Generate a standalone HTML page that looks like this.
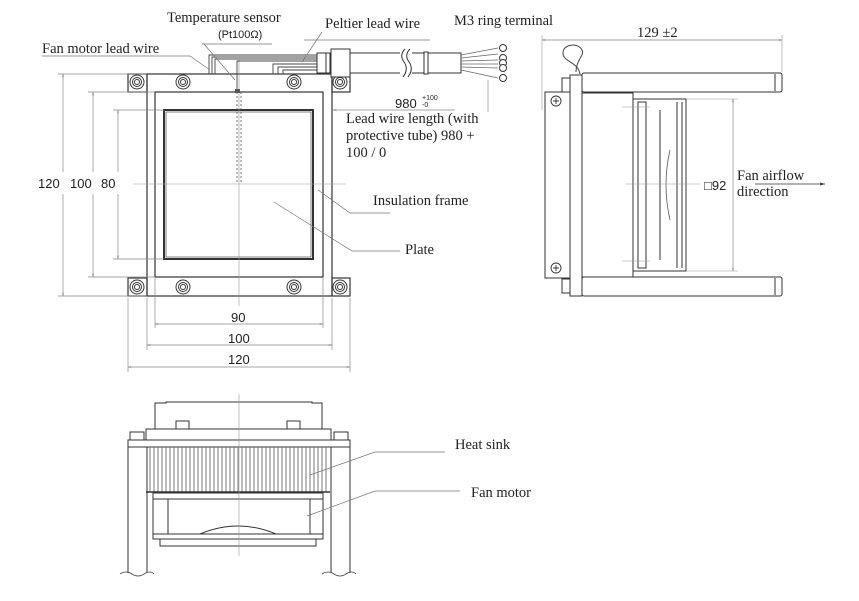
<!DOCTYPE html>
<html><head><meta charset="utf-8"><style>
html,body{margin:0;padding:0;background:#fff;}
svg{display:block;}
.s{font-family:"Liberation Serif",serif;fill:#222;}
.a{font-family:"Liberation Sans",sans-serif;fill:#222;}
</style></head><body>
<svg width="859" height="601" viewBox="0 0 859 601" xmlns="http://www.w3.org/2000/svg">
<rect width="859" height="601" fill="#fff"/>
<defs>
<marker id="ar" viewBox="0 0 10 10" refX="10" refY="5" markerWidth="5" markerHeight="5" orient="auto-start-reverse"><path d="M0,2L10,5L0,8" fill="none" stroke="#888" stroke-width="1"/></marker>
<marker id="af" viewBox="0 0 10 10" refX="10" refY="5" markerWidth="6" markerHeight="6" orient="auto"><path d="M0,2L10,5L0,8z" fill="#333"/></marker>
</defs>

<!-- FRONT VIEW -->
<g fill="none" stroke="#333" stroke-width="1.2">
<rect x="147" y="74" width="185" height="222"/>
<rect x="128" y="74" width="19" height="18"/><rect x="332" y="74" width="18" height="18"/>
<rect x="128" y="278" width="19" height="18"/><rect x="332" y="278" width="18" height="18"/>
<rect x="155" y="92" width="168" height="185"/>
<rect x="164" y="110" width="149" height="149" stroke-width="2"/>
<rect x="166" y="112" width="145" height="145" stroke-width="0.6"/>
</g>
<g fill="none" stroke="#333" stroke-width="1">
<circle cx="137" cy="82" r="7"/><circle cx="137" cy="82" r="4.5"/><circle cx="137" cy="82" r="2.5"/>
<circle cx="183" cy="82" r="7"/><circle cx="183" cy="82" r="4.5"/><circle cx="183" cy="82" r="2.5"/>
<circle cx="294" cy="82" r="7"/><circle cx="294" cy="82" r="4.5"/><circle cx="294" cy="82" r="2.5"/>
<circle cx="340" cy="82" r="7"/><circle cx="340" cy="82" r="4.5"/><circle cx="340" cy="82" r="2.5"/>
<circle cx="137" cy="287" r="7"/><circle cx="137" cy="287" r="4.5"/><circle cx="137" cy="287" r="2.5"/>
<circle cx="183" cy="287" r="7"/><circle cx="183" cy="287" r="4.5"/><circle cx="183" cy="287" r="2.5"/>
<circle cx="294" cy="287" r="7"/><circle cx="294" cy="287" r="4.5"/><circle cx="294" cy="287" r="2.5"/>
<circle cx="340" cy="287" r="7"/><circle cx="340" cy="287" r="4.5"/><circle cx="340" cy="287" r="2.5"/>
</g>
<!-- centre lines -->
<g stroke="#999" stroke-width="0.6">
<line x1="239" y1="60" x2="239" y2="306"/>
<line x1="133" y1="184" x2="346" y2="184"/>
</g>
<line x1="237" y1="92" x2="237" y2="183" stroke="#555" stroke-width="0.8" stroke-dasharray="2,2"/>
<line x1="241" y1="92" x2="241" y2="183" stroke="#555" stroke-width="0.8" stroke-dasharray="2,2"/>
<!-- wires -->
<g fill="none" stroke="#444" stroke-width="0.9">
<polyline points="209,74 209,55 317,55"/>
<polyline points="212,74 212,57 317,57"/>
<polyline points="215,74 215,59 317,59"/>
<polyline points="237,92 237,61 317,61"/>
<polyline points="273,74 273,64 317,64"/>
<polyline points="278,74 278,67 317,67"/>
<polyline points="283,74 283,70 317,70"/>
</g>
<rect x="235" y="89" width="5" height="4" fill="#555"/>
<!-- cable -->
<g fill="#fff" stroke="#333" stroke-width="1">
<rect x="317" y="53" width="144" height="20"/>
<rect x="326" y="53" width="4" height="20"/>
<rect x="331" y="49" width="19" height="28"/>
<rect x="424" y="52" width="4" height="22"/>
</g>
<rect x="400" y="50" width="12" height="26" fill="#fff"/>
<path d="M405,49 q-6,6 -1,13 q5,7 -1,15" fill="none" stroke="#333"/>
<path d="M410,49 q-6,6 -1,13 q5,7 -1,15" fill="none" stroke="#333"/>
<g fill="none" stroke="#666" stroke-width="0.8">
<line x1="461" y1="55" x2="498" y2="48"/><line x1="461" y1="58" x2="498" y2="54"/>
<line x1="461" y1="61" x2="498" y2="60"/><line x1="461" y1="64" x2="498" y2="64"/>
<line x1="461" y1="67" x2="498" y2="68"/><line x1="461" y1="70" x2="498" y2="78"/>
</g>
<g fill="#fff" stroke="#333" stroke-width="1">
<circle cx="503" cy="48" r="3.5"/><circle cx="503" cy="58" r="3.5"/><circle cx="503" cy="63" r="3.5"/>
<circle cx="503" cy="68" r="3.5"/><circle cx="503" cy="78" r="3.5"/>
</g>
<!-- leaders -->
<g fill="none" stroke="#777" stroke-width="0.7">
<polyline points="42,56 190,56 210,70"/>
<polyline points="202,44 204,44 235,80"/>
<polyline points="202,44 272,44"/>
<polyline points="304,40 430,40"/>
<line x1="322" y1="32" x2="302" y2="62"/>
<polyline points="318,190 350,213 390,213"/>
<polyline points="274,202 352,251 400,251"/>
</g>
<!-- left dims -->
<g stroke="#888" stroke-width="0.7" fill="none">
<line x1="58" y1="74" x2="147" y2="74"/><line x1="58" y1="296" x2="147" y2="296"/>
<line x1="88" y1="92" x2="155" y2="92"/><line x1="88" y1="277" x2="155" y2="277"/>
<line x1="113" y1="110" x2="164" y2="110"/><line x1="113" y1="259" x2="164" y2="259"/>
<line x1="63" y1="74" x2="63" y2="172" marker-start="url(#ar)"/><line x1="63" y1="194" x2="63" y2="296" marker-end="url(#ar)"/>
<line x1="93" y1="92" x2="93" y2="172" marker-start="url(#ar)"/><line x1="93" y1="194" x2="93" y2="277" marker-end="url(#ar)"/>
<line x1="118" y1="110" x2="118" y2="172" marker-start="url(#ar)"/><line x1="118" y1="194" x2="118" y2="259" marker-end="url(#ar)"/>
<line x1="128" y1="298" x2="128" y2="372"/><line x1="350" y1="298" x2="350" y2="372"/>
<line x1="147" y1="298" x2="147" y2="350"/><line x1="332" y1="298" x2="332" y2="350"/>
<line x1="155" y1="278" x2="155" y2="328"/><line x1="323" y1="278" x2="323" y2="328"/>
<line x1="155" y1="324" x2="323" y2="324" marker-start="url(#ar)" marker-end="url(#ar)"/>
<line x1="147" y1="345" x2="332" y2="345" marker-start="url(#ar)" marker-end="url(#ar)"/>
<line x1="128" y1="367" x2="350" y2="367" marker-start="url(#ar)" marker-end="url(#ar)"/>
<line x1="333" y1="110" x2="455" y2="110" marker-start="url(#ar)"/>
<line x1="488" y1="80" x2="488" y2="112"/>
</g>
<g class="a" font-size="13">
<text x="38" y="188">120</text><text x="70" y="188">100</text><text x="101" y="188">80</text>
<text x="231" y="322">90</text><text x="228" y="343">100</text><text x="228" y="364">120</text>
<text x="395" y="108">980</text>
</g>
<text class="a" x="422" y="100" font-size="7">+100</text>
<text class="a" x="422" y="107" font-size="7">-0</text>
<text class="a" x="218" y="38" font-size="11">(Pt100Ω)</text>
<g class="s" font-size="14.5">
<text x="167" y="22">Temperature sensor</text>
<text x="42" y="53">Fan motor lead wire</text>
<text x="325" y="28">Peltier lead wire</text>
<text x="454" y="25">M3 ring terminal</text>
<text x="346" y="123">Lead wire length (with</text>
<text x="346" y="140">protective tube) 980 +</text>
<text x="346" y="157">100 / 0</text>
<text x="373" y="205">Insulation frame</text>
<text x="405" y="254">Plate</text>
</g>

<!-- SIDE VIEW -->
<g fill="#fff" stroke="#333" stroke-width="1">
<rect x="582" y="73" width="200" height="19" rx="2"/>
<rect x="582" y="277" width="200" height="19" rx="2"/>
<line x1="775" y1="74" x2="775" y2="91"/><line x1="775" y1="278" x2="775" y2="295"/>
<rect x="545" y="92" width="25" height="186"/>
<rect x="570" y="75" width="12" height="221"/>
<rect x="582" y="93" width="51" height="184"/>
<rect x="633" y="99" width="53" height="172"/>
<rect x="638" y="102" width="8" height="166"/>
<line x1="660" y1="110" x2="660" y2="260"/>
<line x1="677" y1="102" x2="677" y2="268"/>
<line x1="682" y1="102" x2="682" y2="268"/>
<rect x="562" y="78" width="8" height="14"/>
<rect x="562" y="279" width="8" height="14"/>
</g>
<path d="M670,150 q-8,35 0,70" fill="none" stroke="#555" stroke-width="0.8"/>
<path d="M576,72 C576,60 585,55 582,50 C578,42 562,44 563,54 C564,62 578,62 580,74" fill="none" stroke="#444" stroke-width="1"/>
<g fill="none" stroke="#333" stroke-width="0.9">
<circle cx="556" cy="101" r="5"/><path d="M556,98v6M553,101h6"/>
<circle cx="556" cy="268" r="5"/><path d="M556,265v6M553,268h6"/>
</g>
<g stroke="#999" stroke-width="0.6">
<line x1="625" y1="184" x2="700" y2="184"/>
<line x1="622" y1="107" x2="650" y2="107"/><line x1="622" y1="261" x2="650" y2="261"/>
<line x1="542" y1="35" x2="542" y2="110"/><line x1="782" y1="35" x2="782" y2="72"/>
<line x1="686" y1="99" x2="738" y2="99"/><line x1="686" y1="271" x2="738" y2="271"/>
</g>
<g stroke="#888" stroke-width="0.7">
<line x1="542" y1="40" x2="782" y2="40" marker-start="url(#ar)" marker-end="url(#ar)"/>
<line x1="733" y1="99" x2="733" y2="271" marker-start="url(#ar)" marker-end="url(#ar)"/>
</g>
<line x1="755" y1="184" x2="825" y2="184" stroke="#333" stroke-width="0.8" marker-end="url(#af)"/>
<text class="s" x="637" y="37" font-size="14.5">129 ±2</text>
<text class="a" x="704" y="190" font-size="13">□92</text>
<text class="s" x="737" y="180" font-size="14.5">Fan airflow</text>
<text class="s" x="737" y="196" font-size="14.5">direction</text>

<!-- BOTTOM VIEW -->
<g fill="#fff" stroke="#333" stroke-width="1">
<path d="M155,429 V403 H166 V402 H312 V403 H322 V429"/>
<rect x="176" y="421" width="13" height="8"/><rect x="287" y="421" width="13" height="8"/>
<rect x="130" y="432" width="14" height="8"/><rect x="334" y="432" width="14" height="8"/>
<rect x="146" y="429" width="185" height="12"/>
<rect x="128" y="440" width="222" height="7"/>
<line x1="128" y1="447" x2="128" y2="573"/><line x1="147" y1="447" x2="147" y2="573"/>
<line x1="331" y1="447" x2="331" y2="573"/><line x1="350" y1="447" x2="350" y2="573"/>
<rect x="153" y="493" width="170" height="6" fill="#fff"/>
<rect x="153" y="499" width="170" height="40"/>
<line x1="168" y1="499" x2="168" y2="534"/><line x1="310" y1="499" x2="310" y2="534"/>
<line x1="153" y1="534" x2="323" y2="534"/>
<path d="M160,539 H316 V546 H160Z"/>
<path d="M200,534 q38,-16 76,0" fill="none"/>
</g>
<g stroke="#777" stroke-width="1">
<path d="M150,447 V492 M154,447 V492 M158,447 V492 M162,447 V492 M166,447 V492 M170,447 V492 M174,447 V492 M178,447 V492 M182,447 V492 M186,447 V492 M190,447 V492 M194,447 V492 M198,447 V492 M202,447 V492 M206,447 V492 M210,447 V492 M214,447 V492 M218,447 V492 M222,447 V492 M226,447 V492 M230,447 V492 M234,447 V492 M238,447 V492 M242,447 V492 M246,447 V492 M250,447 V492 M254,447 V492 M258,447 V492 M262,447 V492 M266,447 V492 M270,447 V492 M274,447 V492 M278,447 V492 M282,447 V492 M286,447 V492 M290,447 V492 M294,447 V492 M298,447 V492 M302,447 V492 M306,447 V492 M310,447 V492 M314,447 V492 M318,447 V492 M322,447 V492 M326,447 V492"/>
</g>
<line x1="146" y1="492" x2="330" y2="492" stroke="#333" stroke-width="1.5"/>
<line x1="239" y1="394" x2="239" y2="556" stroke="#999" stroke-width="0.6"/>
<g fill="none" stroke="#444" stroke-width="0.8">
<path d="M120,574 q6,-4 12,0 t12,0 t10,0"/><path d="M322,574 q6,-4 12,0 t12,0 t10,0"/>
</g>
<g fill="none" stroke="#777" stroke-width="0.7">
<polyline points="310,475 375,452 445,452"/>
<polyline points="307,516 375,491 460,491"/>
</g>
<text class="s" x="455" y="449" font-size="14.5">Heat sink</text>
<text class="s" x="471" y="497" font-size="14.5">Fan motor</text>
</svg>
</body></html>
